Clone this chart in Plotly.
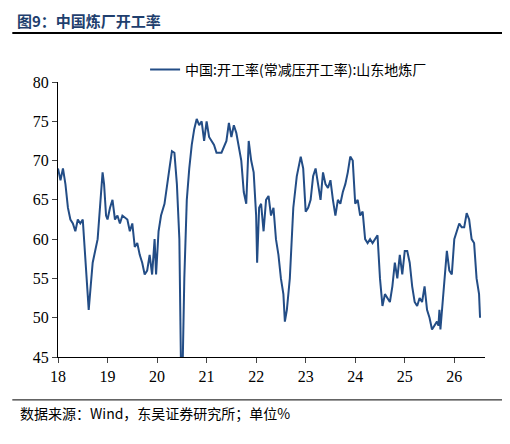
import plotly.graph_objects as go

x = [18.0,18.05,18.1,18.15,18.2,18.25,18.3,18.35,18.4,18.45,18.5,18.55,18.6,18.62,18.66,18.7,18.8,18.85,18.9,18.93,18.97,
     19.0,19.05,19.1,19.15,19.2,19.25,19.3,19.4,19.45,19.5,19.55,19.6,19.65,19.7,19.75,19.8,19.85,19.9,19.95,19.98,
     20.03,20.08,20.15,20.2,20.25,20.3,20.35,20.4,20.45,20.48,20.52,20.55,20.6,20.65,20.7,20.75,20.8,20.85,20.9,20.95,
     21.0,21.05,21.1,21.15,21.2,21.3,21.4,21.45,21.5,21.55,21.6,21.7,21.75,21.8,21.85,21.9,21.95,
     22.0,22.02,22.06,22.1,22.15,22.2,22.25,22.3,22.35,22.4,22.45,22.5,22.55,22.58,22.62,22.68,22.75,22.82,22.9,22.95,
     23.0,23.05,23.1,23.15,23.2,23.25,23.3,23.35,23.4,23.45,23.5,23.55,23.6,23.65,23.7,23.75,23.8,23.85,23.9,23.95,
     24.0,24.05,24.1,24.15,24.2,24.25,24.3,24.35,24.4,24.45,24.5,24.55,24.6,24.65,24.7,24.75,24.8,24.85,24.9,24.95,
     25.0,25.05,25.1,25.15,25.2,25.25,25.3,25.35,25.4,25.45,25.5,25.55,25.6,25.65,25.68,25.7,25.72,25.75,25.8,25.85,25.9,25.95,
     26.0,26.05,26.1,26.15,26.2,26.25,26.3,26.35,26.4,26.45,26.5,26.52]
y = [69,67.5,69,67,64,62.5,62,61,62.5,62,62.5,58,53,51,54,57,60,64,68.5,67,63,
     62.5,64,65,62.5,63,62,63,62.5,61,62,59,59.5,58,57,55.5,56,58,55.5,60,55.5,
     61,63,64.5,67,69,71.2,71,67,60,45,45,55,65,69,72,74,75.3,74.5,75,72.5,
     75,73,72.5,72,71,71,72.5,74.8,73,74.5,73.5,70,66,64.5,72.5,70,68.5,
     63,57,64,64.5,61,65,65.5,63,64,60,58,55,53,49.5,51,55,64,68,70.5,69,
     63.5,64,65,68,69,67,65,68.5,67,66.5,67.5,65,63,65,64.5,66,67,68.5,70.5,70,
     64.5,65,63,63.5,60,59.5,60,59.5,60,60.5,55,51.5,53,52.5,52,54,57,55,58,55.5,
     58.5,58.5,57,54,52,51.5,52.5,52,54,51,50,48.5,49,49.5,49,51,48.5,51,55,58.5,56,55.5,
     60,61,62,61.5,61.5,63.3,62.5,60,59.5,55,53,50]
tick_vals = [18,19,20,21,22,23,24,25,26]
tick_text = ["18","19","20","21","22","23","24","25","26"]
series_name = "中国:开工率(常减压开工率):山东地炼厂"

fig = go.Figure(go.Scatter(x=x, y=y, mode="lines", name=series_name,
                           line=dict(color="#234d86", width=2)))
font = "Noto Sans CJK SC"
serif = "Liberation Serif, Times New Roman"
fig.update_layout(
    width=510, height=444, margin=dict(l=50, r=33, t=74, b=95),
    plot_bgcolor="white", paper_bgcolor="white",
    font=dict(family=font, size=14, color="black"),
    showlegend=True,
    legend=dict(x=0.54, y=1.044, xanchor="center", yanchor="middle", font=dict(size=14, family=font)),
    xaxis=dict(range=[18, 26.62], tickvals=tick_vals, ticktext=tick_text, showgrid=False,
               showline=True, linecolor="black", ticks="outside", ticklen=5, zeroline=False,
               tickfont=dict(family=serif, size=16)),
    yaxis=dict(range=[45, 80], dtick=5, showgrid=False, showline=True, linecolor="black",
               ticks="outside", ticklen=5, zeroline=False,
               tickfont=dict(family=serif, size=16)),
    annotations=[
        dict(text="<b>图9：中国炼厂开工率</b>", xref="paper", yref="paper", x=-0.1, y=1.222,
             xanchor="left", yanchor="middle", showarrow=False, font=dict(size=15, family=font, color="#1f3f6e")),
        dict(text="数据来源：Wind，东吴证券研究所；单位%", xref="paper", yref="paper", x=-0.093, y=-0.204,
             xanchor="left", yanchor="middle", showarrow=False, font=dict(size=14, family=font)),
    ],
    shapes=[
        dict(type="line", xref="paper", yref="paper", x0=-0.107, x1=1.08, y0=1.178, y1=1.178, line=dict(color="black", width=2)),
        dict(type="line", xref="paper", yref="paper", x0=-0.107, x1=1.08, y0=-0.156, y1=-0.156, line=dict(color="black", width=1)),
    ],
)
fig.write_html("out.html")
